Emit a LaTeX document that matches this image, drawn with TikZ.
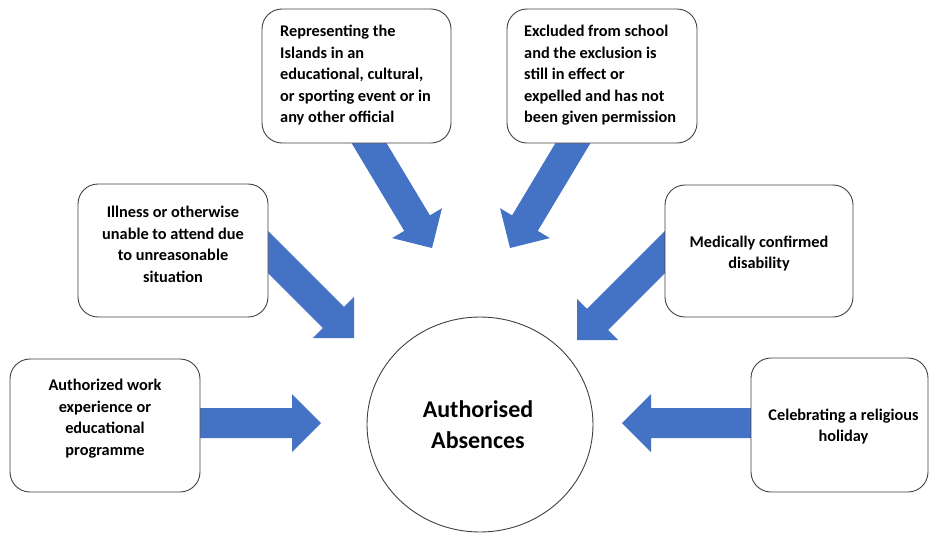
\documentclass[tikz,border=0pt]{standalone}
\usepackage{fontspec}
\setmainfont{Carlito}
\usetikzlibrary{calc,shapes.geometric}
\definecolor{arrowblue}{HTML}{4472C4}
\definecolor{edgegray}{HTML}{404040}
\newcommand\blockarrow[2]{%
  \fill[arrowblue] let \p1=(#1), \p2=(#2), \n1={atan2(\y2-\y1,\x2-\x1)} in
   ($(\p1)+(\n1+90:15pt)$) --
   ($(\p2)+(\n1:-29pt)+(\n1+90:15pt)$) --
   ($(\p2)+(\n1:-29pt)+(\n1+90:29pt)$) --
   (\p2) --
   ($(\p2)+(\n1:-29pt)+(\n1-90:29pt)$) --
   ($(\p2)+(\n1:-29pt)+(\n1-90:15pt)$) --
   ($(\p1)+(\n1-90:15pt)$) -- cycle;}
\begin{document}
\begin{tikzpicture}[x=1pt,y=-1pt,
  box/.style={draw=edgegray, line width=0.9pt, fill=white, rounded corners=20pt, inner sep=0pt},
  txt/.style={font=\bfseries\fontsize{16.3}{21.5}\selectfont, inner sep=0pt, text=black},
  hub/.style={draw=edgegray, line width=0.9pt, fill=white, ellipse, inner sep=0pt,
    font=\bfseries\fontsize{24}{31}\selectfont, align=center}]
\useasboundingbox (0,0) rectangle (930,539);
% tails and tips of the block arrows
\coordinate (t1) at (180,423);  \coordinate (h1) at (321,423);
\coordinate (t2) at (780,423);  \coordinate (h2) at (622,423);
\coordinate (t3) at (240,224);  \coordinate (h3) at (354,338);
\coordinate (t4) at (690,227);  \coordinate (h4) at (577,340);
\coordinate (t5) at (360,128);  \coordinate (h5) at (432,248);
\coordinate (t6) at (582,128);  \coordinate (h6) at (510,248);
\blockarrow{t1}{h1}
\blockarrow{t2}{h2}
\blockarrow{t3}{h3}
\blockarrow{t4}{h4}
\blockarrow{t5}{h5}
\blockarrow{t6}{h6}
% boxes
\node[box, minimum width=189pt, minimum height=134pt] (rep) at (356.5,76) {};
\node[box, minimum width=190pt, minimum height=134pt] (exc) at (602,76) {};
\node[box, minimum width=190pt, minimum height=133pt] (ill) at (173,250.5) {};
\node[box, minimum width=188pt, minimum height=132pt] (med) at (759,251) {};
\node[box, minimum width=190pt, minimum height=133pt] (auth) at (105,425.5) {};
\node[box, minimum width=177pt, minimum height=134pt] (cel) at (839.5,425) {};
\node[hub, minimum width=226pt, minimum height=215pt] (hub) at (480,424.5) {};
\node[font=\bfseries\fontsize{24}{31}\selectfont, align=center, inner sep=0pt] (hub-t) at (478,424.5) {Authorised\\Absences};
% texts
\node[txt, anchor=west, align=left] (rep-t) at (280,75.5)
  {Representing the\\Islands in an\\educational, cultural,\\or sporting event or in\\any other official};
\node[txt, anchor=west, align=left] (exc-t) at (524,75.5)
  {Excluded from school\\and the exclusion is\\still in effect or\\expelled and has not\\been given permission};
\node[txt, align=center] (ill-t) at (173,244.5)
  {Illness or otherwise\\unable to attend due\\to unreasonable\\situation};
\node[txt, align=center] (med-t) at (759,253.5) {Medically confirmed\\disability};
\node[txt, align=center] (auth-t) at (105,418.5)
  {Authorized work\\experience or\\educational\\programme};
\node[txt, align=center] (cel-t) at (843.5,426.5) {Celebrating a religious\\holiday};
\end{tikzpicture}
\end{document}
